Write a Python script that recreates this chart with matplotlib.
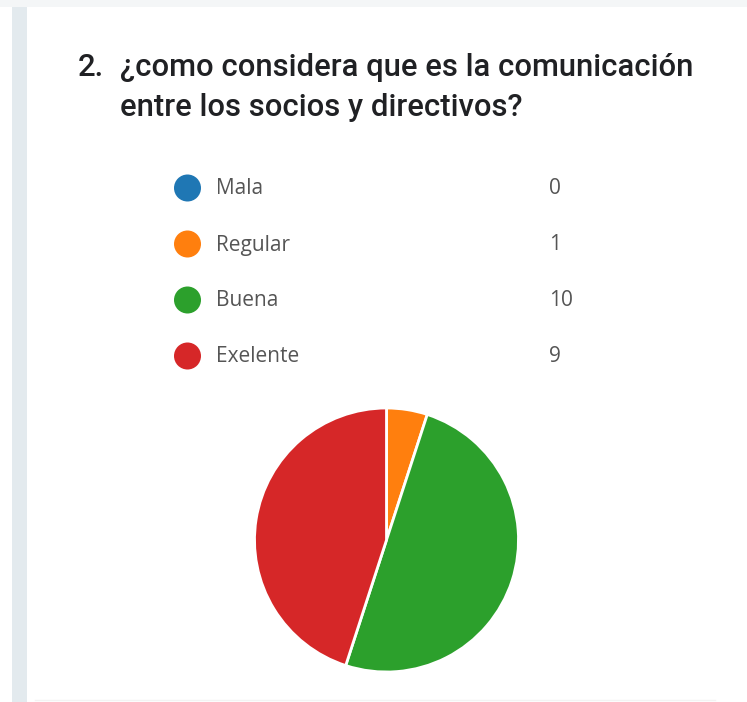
import matplotlib
matplotlib.use("Agg")
import matplotlib.pyplot as plt
from matplotlib.patches import Circle, Rectangle

# survey answers
categorias = ["Mala", "Regular", "Buena", "Exelente"]
respuestas = [0, 1, 10, 9]
colores = ["#1f77b4", "#ff7f0e", "#2ca02c", "#d62728"]
titulo = ["¿como considera que es la comunicación", "entre los socios y directivos?"]

W, H = 747, 702
fig = plt.figure(figsize=(W / 100, H / 100), dpi=100)
fig.patch.set_facecolor("white")

# full-size axes in pixel units for the card, title and legend
ax = fig.add_axes([0, 0, 1, 1])
ax.set_xlim(0, W)
ax.set_ylim(H, 0)
ax.axis("off")

ax.add_patch(Rectangle((0, 0), W, 7, color="#f4f6f7", lw=0))
ax.add_patch(Rectangle((12, 7), 15, H - 7, color="#e3eaee", lw=0))
ax.plot([35, 715], [700, 700], color="#f3f3f3", lw=1)

tkw = dict(fontsize=22.3, family="Roboto", weight="medium", color="#202124", va="baseline")
ax.text(78, 76, "2.", **tkw)
ax.text(120, 76, titulo[0], **tkw)
ax.text(120, 116, titulo[1], **tkw)

# legend rows: dot, label, count
for i, (cat, n, c) in enumerate(zip(categorias, respuestas, colores)):
    y = 188 + i * 56
    ax.add_patch(Circle((187.5, y), 13.5, color=c, lw=0))
    ax.text(216, y + 6.5, cat, fontsize=15, family="Open Sans", color="#555555", va="baseline")
    ax.text(549, y + 6.5, str(n), fontsize=15, family="Open Sans", color="#555555", va="baseline")

# pie
cx, cy, r = 386.5, 540, 132
pax = fig.add_axes([(cx - r) / W, (H - cy - r) / H, 2 * r / W, 2 * r / H])
pax.pie(respuestas, colors=colores, startangle=90, counterclock=False,
        wedgeprops=dict(edgecolor="white", linewidth=2))
pax.set_xlim(-1, 1)
pax.set_ylim(-1, 1)
pax.axis("off")

fig.savefig("out.png", dpi=100)
